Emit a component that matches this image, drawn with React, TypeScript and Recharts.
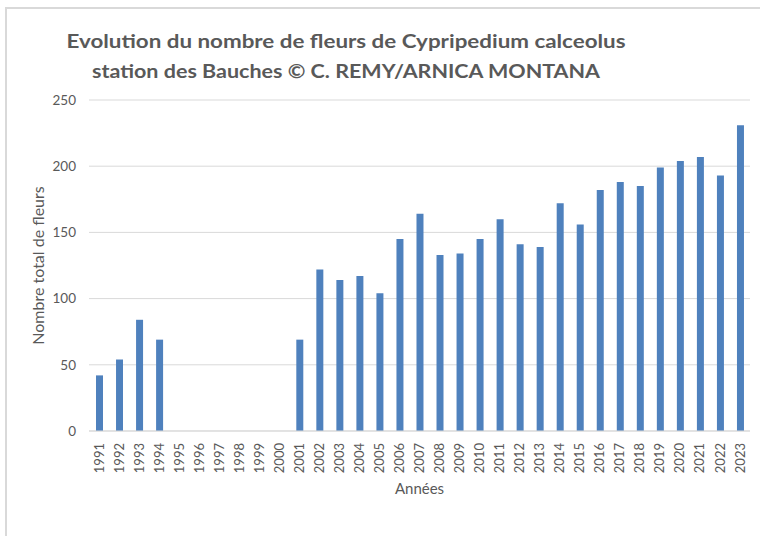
import { Bar, BarChart, CartesianGrid, Label, XAxis, YAxis } from "recharts";

const years = [
  "1991", "1992", "1993", "1994", "1995", "1996", "1997", "1998", "1999", "2000",
  "2001", "2002", "2003", "2004", "2005", "2006", "2007", "2008", "2009", "2010",
  "2011", "2012", "2013", "2014", "2015", "2016", "2017", "2018", "2019", "2020",
  "2021", "2022", "2023",
];

const flowers: (number | null)[] = [
  42, 54, 84, 69, null, null, null, null, null, null,
  69, 122, 114, 117, 104, 145, 164, 133, 134, 145,
  160, 141, 139, 172, 156, 182, 188, 185, 199, 204,
  207, 193, 231,
];

const yTicks = [0, 50, 100, 150, 200, 250];

const titleLines = [
  "Evolution du nombre de fleurs de Cypripedium calceolus",
  "station des Bauches © C. REMY/ARNICA MONTANA",
];

const data = years.map((year, i) => ({ year, value: flowers[i] }));

const font = "Lato, 'Open Sans', sans-serif";
const textColor = "#595959";

function YearTick(props: any) {
  const { x, y, payload } = props;
  return (
    <text
      x={x}
      y={y}
      dy="0.35em"
      transform={`rotate(-90, ${x}, ${y})`}
      textAnchor="end"
      fill={textColor}
      fontSize={13}
      fontFamily={font}
    >
      {payload.value}
    </text>
  );
}

export default function App() {
  return (
    <div style={{ position: "absolute", left: 0, top: 0, width: 760, height: 536, background: "#fff", overflow: "hidden" }}>
      <div
        style={{
          position: "absolute",
          left: 5,
          top: 7,
          width: 800,
          height: 600,
          border: "2px solid #d9d9d9",
          boxSizing: "border-box",
        }}
      />
      <svg width={760} height={100} style={{ position: "absolute", left: 0, top: 0 }}>
        <text x={346} y={48} textAnchor="middle" fill={textColor} fontSize={19} fontWeight="bold" fontFamily={font} textLength={559} lengthAdjust="spacingAndGlyphs">
          {titleLines[0]}
        </text>
        <text x={346} y={78} textAnchor="middle" fill={textColor} fontSize={19} fontWeight="bold" fontFamily={font} textLength={508} lengthAdjust="spacingAndGlyphs">
          {titleLines[1]}
        </text>
      </svg>
      <div style={{ position: "absolute", left: 0, top: 0 }}>
        <BarChart width={760} height={536} data={data} margin={{ top: 100, right: 10, bottom: 0, left: 0 }} barCategoryGap={0}>
          <CartesianGrid vertical={false} stroke="#d9d9d9" />
          <XAxis
            dataKey="year"
            interval={0}
            height={105}
            tickLine={false}
            axisLine={{ stroke: "#d9d9d9" }}
            tick={<YearTick />}
            tickMargin={6}
          >
            <Label
              content={(p: any) => {
                const vb = p.viewBox;
                return (
                  <text x={vb.x + vb.width / 2} y={494} textAnchor="middle" fill={textColor} fontSize={15} fontFamily={font}>
                    Années
                  </text>
                );
              }}
            />
          </XAxis>
          <YAxis
            width={89}
            domain={[0, 250]}
            ticks={yTicks}
            axisLine={false}
            tickLine={false}
            tickMargin={7}
            tick={{ fill: textColor, fontSize: 13.5, fontFamily: font }}
          >
            <Label
              content={(p: any) => {
                const vb = p.viewBox;
                const cy = vb.y + vb.height / 2;
                return (
                  <text x={38} y={cy} dy="0.35em" transform={`rotate(-90, 38, ${cy})`} textAnchor="middle" fill={textColor} fontSize={16} fontFamily={font}>
                    Nombre total de fleurs
                  </text>
                );
              }}
            />
          </YAxis>
          <Bar dataKey="value" fill="#4f81bd" barSize={7} isAnimationActive={false} />
        </BarChart>
      </div>
    </div>
  );
}
